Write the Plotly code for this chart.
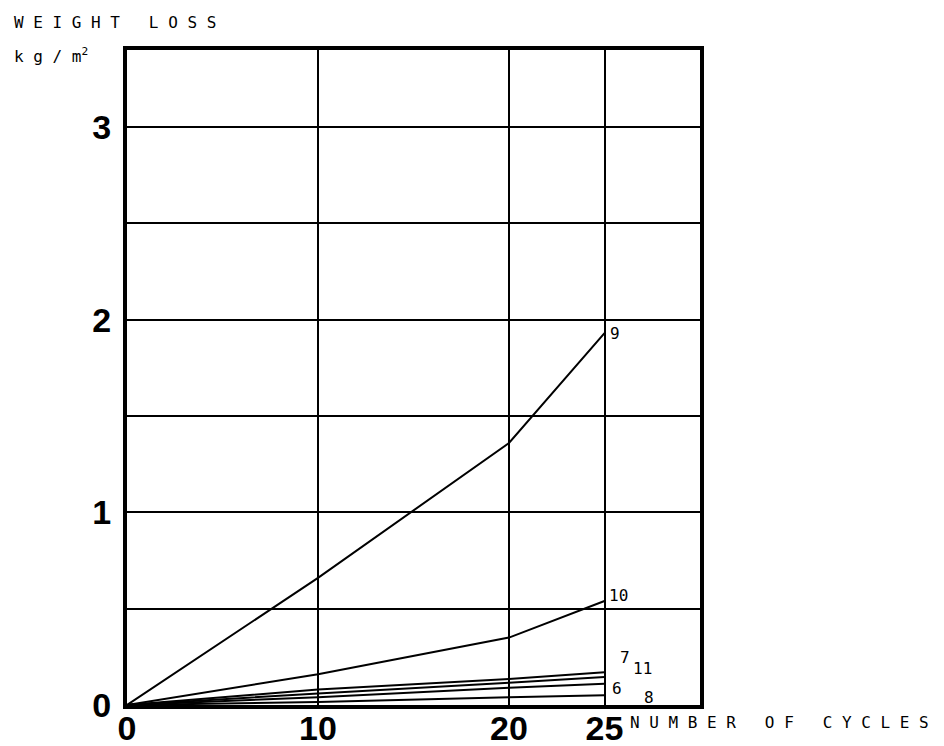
import plotly.graph_objects as go

# ---- data ----
cycles = [0, 10, 20, 25]
series_names = ["9", "10", "7", "11", "6", "8"]
s9 = [0, 0.66, 1.36, 1.93]
s10 = [0, 0.16, 0.35, 0.54]
s7 = [0, 0.08, 0.135, 0.17]
s11 = [0, 0.06, 0.115, 0.145]
s6 = [0, 0.04, 0.09, 0.11]
s8 = [0, 0.015, 0.04, 0.05]
series_values = [s9, s10, s7, s11, s6, s8]
x_tickvals = [0, 10, 20, 25]
x_ticktext = ["0", "10", "20", "25"]
y_tickvals = [0, 1, 2, 3]
y_ticktext = ["0", "1", "2", "3"]
y_title = "WEIGHT LOSS"
y_unit = "kg/m"
x_title = "NUMBER OF CYCLES"

# label offsets (pixels) relative to last point: style only
label_shift = {"9": (3, 0), "10": (2, 5), "7": (13, 15), "11": (26, 9), "6": (5, -5), "8": (37, -2)}

MONO = "DejaVu Sans Mono"
L, R, T, B = 127, 244, 50, 41
W, H = 944, 746
PW, PH = W - L - R, H - T - B


def spaced(text):
    words = text.split(" ")
    return " \u00a0 ".join(" ".join(w) for w in words)


def px_to_paper(px, py):
    return (px - L) / PW, (H - B - py) / PH


fig = go.Figure()
for name, vals in zip(series_names, series_values):
    fig.add_trace(go.Scatter(x=cycles, y=vals, mode="lines", name=name,
                             line=dict(color="black", width=2), showlegend=False,
                             hoverinfo="skip"))
    dx, dy = label_shift[name]
    fig.add_annotation(x=cycles[-1], y=vals[-1], text=name, showarrow=False,
                       xanchor="left", yanchor="middle", xshift=dx, yshift=dy,
                       font=dict(family=MONO, size=16, color="black"))

axis_common = dict(showline=True, linecolor="black", linewidth=4, mirror=True,
                   showgrid=True, gridcolor="black", gridwidth=1.6, zeroline=False,
                   ticks="", tickfont=dict(family="Liberation Sans", size=34, color="black",
                                           weight="bold"))

fig.update_xaxes(range=[0, 30], tickmode="array", tickvals=x_tickvals, ticktext=x_ticktext,
                 ticklabelstandoff=-10, **axis_common)
fig.update_yaxes(range=[0, 3.4], tickmode="array", tickvals=y_tickvals, ticktext=y_ticktext,
                 ticklabelstandoff=5,
                 minor=dict(dtick=0.5, tick0=0, showgrid=True, gridcolor="black",
                            gridwidth=1.6, ticks=""),
                 **axis_common)

# axis titles as annotations
ax, ay = px_to_paper(12, 22)
fig.add_annotation(xref="paper", yref="paper", x=ax, y=ay, xanchor="left", yanchor="middle",
                   text=spaced(y_title), showarrow=False,
                   font=dict(family=MONO, size=16, color="black"))
ax, ay = px_to_paper(12, 55)
fig.add_annotation(xref="paper", yref="paper", x=ax, y=ay, xanchor="left", yanchor="middle",
                   text=spaced(y_unit) + "<sup>2</sup>", showarrow=False,
                   font=dict(family=MONO, size=16, color="black"))
ax, ay = px_to_paper(628, 723)
fig.add_annotation(xref="paper", yref="paper", x=ax, y=ay, xanchor="left", yanchor="middle",
                   text=spaced(x_title), showarrow=False,
                   font=dict(family=MONO, size=16, color="black"))

fig.update_layout(width=W, height=H, margin=dict(l=L, r=R, t=T, b=B, autoexpand=False),
                  paper_bgcolor="white", plot_bgcolor="white")

fig.write_html("out.html")
